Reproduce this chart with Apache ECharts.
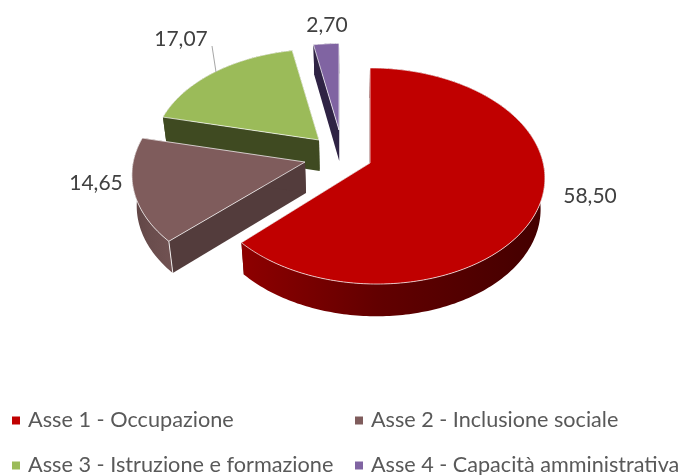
<!DOCTYPE html>
<html lang="it">
<head>
    <meta charset="UTF-8">
    <title>Assi</title>
    <script src="https://cdn.jsdelivr.net/npm/echarts@6/dist/echarts.min.js"></script>
    <style>
        html, body { margin: 0; background: #fff; }
    </style>
</head>
<body>
    <div id="chart" style="width: 688px; height: 475px;"></div>

    <script>
        // data
        const categories = ['Asse 1 - Occupazione', 'Asse 2 - Inclusione sociale', 'Asse 3 - Istruzione e formazione', 'Asse 4 - Capacità amministrativa'];
        const values = [58.50, 14.65, 17.07, 2.70];

        // look of each slice (apex of the exploded slice, size, colours, label place)
        const apexes = [[370, 163], [305, 162], [319, 140], [339, 130]];
        const scales = [1, 0.995, 0.955, 0.91];
        const widths = [169.7, 172.7, 172.7, 172.7];
        const leans = [3.5, 0, 0, 0]; // the red slice leans a little to the right towards the viewer
        const colors = ['#C00000', '#7F5C5C', '#9BBB59', '#8064A2'];
        const cutColors = ['#5a0000', '#533C3C', '#3F4A21', '#2F2344'];
        const wallStops = [
            ['#8e0000', '#620000', '#430000'],
            ['#5e4444', '#6a4d4d', '#715252'],
            ['#3F4A21', '#3F4A21', '#3F4A21'],
            ['#2F2344', '#2F2344', '#2F2344']
        ];
        const labelPos = [[590, 196], [96, 183], [181, 39], [327, 25]];
        const leaders = [null, null, [[212, 46], [216, 72]], null];

        const total = values.reduce((a, b) => a + b, 0);

        // perspective of the pie plane
        const ry = 106.5, persp = 0.12;
        const depth = 31, vanishX = 350, shrink = 0.978;

        function topPoint(i, deg) {
            const t = deg * Math.PI / 180;
            const x = Math.sin(t), z = -Math.cos(t);
            const s = 1 / (1 - persp * z) * scales[i];
            return [apexes[i][0] + widths[i] * x * s + leans[i] * (z + 1), apexes[i][1] + ry * z * s];
        }

        function lowPoint(p, cy) {
            return [vanishX + (p[0] - vanishX) * shrink, p[1] + depth + 0.01 * (p[1] - cy)];
        }

        function renderSlice(i) {
            const from = values.slice(0, i).reduce((a, b) => a + b, 0) / total * 360;
            return function (params, api) {
                const to = from + api.value(0) / total * 360;
                const cy = apexes[i][1];
                const arc = [];
                for (let d = from; d < to; d += 1) arc.push(topPoint(i, d));
                arc.push(topPoint(i, to));
                const low = arc.map(p => lowPoint(p, cy));
                const apex = apexes[i];
                const apexLow = lowPoint(apex, cy);
                const children = [];

                // inner cut faces
                children.push({
                    type: 'polygon',
                    shape: { points: [apex, arc[0], low[0], apexLow] },
                    style: { fill: cutColors[i] }
                });
                children.push({
                    type: 'polygon',
                    shape: { points: [apex, arc[arc.length - 1], low[low.length - 1], apexLow] },
                    style: { fill: cutColors[i] }
                });
                // outer wall
                children.push({
                    type: 'polygon',
                    shape: { points: arc.concat(low.slice().reverse()) },
                    style: {
                        fill: {
                            type: 'linear', x: 1, y: 0, x2: 0, y2: 0,
                            colorStops: [
                                { offset: 0, color: wallStops[i][2] },
                                { offset: 0.55, color: wallStops[i][1] },
                                { offset: 1, color: wallStops[i][0] }
                            ]
                        }
                    }
                });
                // white line on the front corner of the wall
                if (i === 1) {
                    children.push({
                        type: 'line',
                        shape: { x1: arc[0][0], y1: arc[0][1], x2: low[0][0], y2: low[0][1] },
                        style: { stroke: 'rgba(255,255,255,0.85)', lineWidth: 1 }
                    });
                }
                // top face
                children.push({
                    type: 'polygon',
                    shape: { points: [apex].concat(arc) },
                    style: { fill: colors[i], stroke: 'rgba(255,255,255,0.7)', lineWidth: 1 }
                });
                if (leaders[i]) {
                    children.push({
                        type: 'line',
                        shape: { x1: leaders[i][0][0], y1: leaders[i][0][1], x2: leaders[i][1][0], y2: leaders[i][1][1] },
                        style: { stroke: '#A6A6A6', lineWidth: 1 }
                    });
                }
                children.push({
                    type: 'text',
                    x: labelPos[i][0],
                    y: labelPos[i][1],
                    style: {
                        text: api.value(0).toFixed(2).replace('.', ','),
                        font: '21px Lato',
                        fill: '#404040',
                        align: 'center',
                        verticalAlign: 'middle'
                    }
                });
                return { type: 'group', children: children };
            };
        }

        const legendBase = {
            orient: 'vertical',
            top: 408,
            height: 120,
            padding: 0,
            itemWidth: 8,
            itemHeight: 8,
            itemGap: 20,
            icon: 'rect',
            selectedMode: false
        };
        const legendText = { fontFamily: 'Lato', color: '#595959', padding: [0, 0, 0, 3], lineHeight: 25 };

        const myChart = echarts.init(document.getElementById('chart'));
        myChart.setOption({
            backgroundColor: '#fff',
            animation: false,
            legend: [
                Object.assign({}, legendBase, {
                    left: 12,
                    data: [categories[0], categories[2]],
                    textStyle: Object.assign({ fontSize: 21.7 }, legendText)
                }),
                Object.assign({}, legendBase, {
                    left: 355,
                    data: [categories[1], categories[3]],
                    textStyle: Object.assign({ fontSize: 21.6 }, legendText)
                })
            ],
            // drawn back to front: purple, green, brown, red
            series: categories.map((name, i) => ({
                type: 'custom',
                name: name,
                coordinateSystem: 'none',
                z: [9, 4, 3, 2][i],
                itemStyle: { color: colors[i] },
                renderItem: renderSlice(i),
                data: [[values[i]]]
            }))
        });
    </script>
</body>
</html>
